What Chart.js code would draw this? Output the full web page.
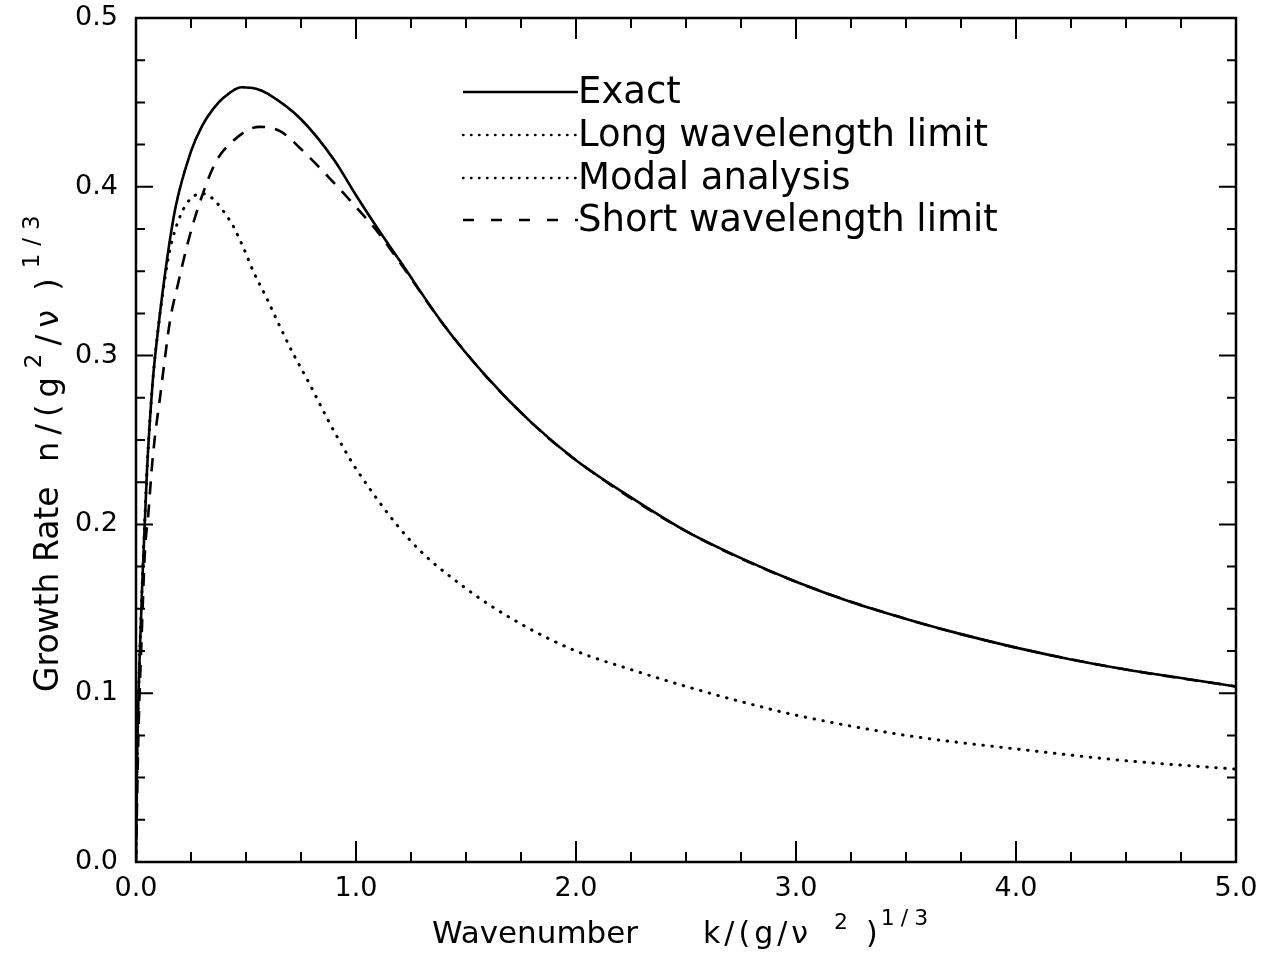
<!DOCTYPE html>
<html>
<head>
<meta charset="utf-8">
<script src="https://cdn.jsdelivr.net/npm/chart.js@4.4.1/dist/chart.umd.min.js"></script>
<style>
    body { margin: 0; background: #fff; }
    #wrap { width: 1269px; height: 956px; }
</style>
</head>
<body>
<div id="wrap"><canvas id="growth"></canvas></div>
<script>
// values (k, growth rate)
const exactK = [0, 0.005, 0.015, 0.03, 0.05, 0.075, 0.1, 0.14, 0.18, 0.25, 0.3, 0.35, 0.4, 0.48, 0.55, 0.6, 0.75, 0.9, 1.0, 1.1, 1.2, 1.4, 1.6, 1.8, 2.0, 2.25, 2.5, 2.75, 3.0, 3.25, 3.5, 3.75, 4.0, 4.25, 4.5, 4.75, 5.0];
const exactRate = [0, 0.06, 0.115, 0.17, 0.232, 0.283, 0.315, 0.356, 0.388, 0.421, 0.436, 0.446, 0.453, 0.459, 0.458, 0.455, 0.44, 0.416, 0.395, 0.375, 0.356, 0.318, 0.2865, 0.26, 0.238, 0.216, 0.196, 0.18, 0.166, 0.154, 0.144, 0.135, 0.127, 0.12, 0.114, 0.109, 0.104];

const longK = [0, 0.005, 0.015, 0.03, 0.05, 0.075, 0.1, 0.147, 0.177, 0.23, 0.3, 0.427, 0.488, 0.533, 0.594, 0.655, 0.715, 0.79, 0.874, 0.94, 1.0, 1.25, 1.5, 1.75, 2.0, 2.26, 2.5, 2.75, 3.0, 3.5, 4.0, 4.5, 5.0];
const longRate = [0, 0.06, 0.115, 0.17, 0.232, 0.283, 0.315, 0.358, 0.374, 0.39, 0.396, 0.38, 0.364, 0.35, 0.334, 0.317, 0.301, 0.283, 0.2615, 0.246, 0.233, 0.19, 0.162, 0.141, 0.125, 0.1136, 0.104, 0.095, 0.087, 0.075, 0.067, 0.06, 0.055];

// modal analysis lies on top of the exact curve
const modalK = exactK;
const modalRate = exactRate;

const shortK = [0, 0.01, 0.026, 0.041, 0.056, 0.071, 0.086, 0.109, 0.132, 0.155, 0.19, 0.238, 0.283, 0.36, 0.44, 0.56, 0.655, 0.745, 0.895, 1.0, 1.1, 1.2, 1.4, 1.6, 1.8, 2.0, 2.5, 3.0, 3.5, 4.0, 4.5, 5.0];
const shortRate = [0, 0.07, 0.135, 0.185, 0.206, 0.232, 0.252, 0.275, 0.299, 0.321, 0.342, 0.368, 0.388, 0.414, 0.427, 0.4355, 0.433, 0.423, 0.403, 0.388, 0.373, 0.355, 0.318, 0.2865, 0.26, 0.238, 0.196, 0.166, 0.144, 0.127, 0.114, 0.104];

const xTicks = [0, 1, 2, 3, 4, 5];
const yTicks = [0, 0.1, 0.2, 0.3, 0.4, 0.5];

const FONT = '"DejaVu Sans"';

function toPoints(xs, ys) {
    return xs.map(function (x, i) {
        return { x: x, y: ys[i] };
    });
}

function drawRich(ctx, parts, x, y) {
    parts.forEach(function (p) {
        ctx.font = p.size + "px " + FONT;
        ctx.letterSpacing = (p.ls || 0) + "px";
        x += p.gap || 0;
        ctx.fillText(p.t, x, y - (p.rise || 0));
        x += ctx.measureText(p.t).width;
    });
    ctx.letterSpacing = "0px";
}

// frame, inward ticks, legend and axis titles
const decorations = {
    id: "decorations",
    afterDraw(chart) {
        const ctx = chart.ctx;
        const a = chart.chartArea;
        const xs = chart.scales.x;
        const ys = chart.scales.y;

        ctx.save();
        ctx.strokeStyle = "#000";
        ctx.fillStyle = "#000";
        ctx.lineWidth = 2.5;
        ctx.strokeRect(a.left, a.top, a.right - a.left, a.bottom - a.top);

        ctx.lineWidth = 2;
        for (let i = 0; i <= 20; i++) {
            const px = xs.getPixelForValue(i * 0.25);
            const len = i % 4 === 0 ? 21 : 10;
            ctx.beginPath();
            ctx.moveTo(px, a.bottom);
            ctx.lineTo(px, a.bottom - len);
            ctx.moveTo(px, a.top);
            ctx.lineTo(px, a.top + len);
            ctx.stroke();
        }
        for (let i = 0; i <= 20; i++) {
            const py = ys.getPixelForValue(i * 0.025);
            const len = i % 4 === 0 ? 17 : 9;
            ctx.beginPath();
            ctx.moveTo(a.left, py);
            ctx.lineTo(a.left + len, py);
            ctx.moveTo(a.right, py);
            ctx.lineTo(a.right - len, py);
            ctx.stroke();
        }

        // legend
        const rows = [92, 135, 178, 220];
        chart.data.datasets.forEach(function (ds, i) {
            const y = rows[i];
            ctx.save();
            ctx.lineWidth = ds.legendWidth;
            ctx.lineCap = ds.borderCapStyle || "butt";
            ctx.setLineDash(ds.legendDash);
            ctx.beginPath();
            ctx.moveTo(463, y);
            ctx.lineTo(578, y);
            ctx.stroke();
            ctx.restore();
            ctx.font = "37px " + FONT;
            ctx.textBaseline = "alphabetic";
            ctx.fillText(ds.label, 578, y + 11);
        });

        // x title
        ctx.textBaseline = "alphabetic";
        drawRich(ctx, [{ t: "Wavenumber", size: 31 }], 432, 943);
        drawRich(ctx, [
            { t: "k/(g/ν", size: 30, ls: 4 },
            { t: "2", size: 22, rise: 14, gap: 22 },
            { t: ")", size: 30, gap: 18 },
            { t: "1/3", size: 22, rise: 18, gap: 3, ls: 6 }
        ], 703, 943);

        // y title
        ctx.translate(58, 692);
        ctx.rotate(-Math.PI / 2);
        drawRich(ctx, [{ t: "Growth Rate", size: 33 }], 0, 0);
        drawRich(ctx, [
            { t: "n/(g", size: 32, ls: 7 },
            { t: "2", size: 23, rise: 17, gap: 2 },
            { t: "/ν", size: 32, gap: 8, ls: 7 },
            { t: ")", size: 32, gap: 12 },
            { t: "1/3", size: 23, rise: 19, gap: 10, ls: 8 }
        ], 230, 0);
        ctx.restore();
    }
};

new Chart(document.getElementById("growth"), {
    type: "line",
    data: {
        datasets: [
            {
                label: "Exact",
                data: toPoints(exactK, exactRate),
                borderColor: "#000",
                borderWidth: 2.6,
                legendWidth: 2.4,
                legendDash: []
            },
            {
                label: "Long wavelength limit",
                data: toPoints(longK, longRate),
                borderColor: "#000",
                borderWidth: 3,
                borderDash: [0.5, 8.5],
                borderCapStyle: "round",
                legendWidth: 2.4,
                legendDash: [0.5, 7.5]
            },
            {
                label: "Modal analysis",
                data: toPoints(modalK, modalRate),
                borderColor: "#000",
                borderWidth: 2,
                borderDash: [0.5, 8.5],
                borderCapStyle: "round",
                legendWidth: 2.4,
                legendDash: [0.5, 7.5]
            },
            {
                label: "Short wavelength limit",
                data: toPoints(shortK, shortRate),
                borderColor: "#000",
                borderWidth: 2.6,
                borderDash: [13, 10],
                legendWidth: 2.4,
                legendDash: [11, 17]
            }
        ]
    },
    options: {
        responsive: true,
        maintainAspectRatio: false,
        animation: false,
        datasets: {
            line: {
                pointRadius: 0,
                fill: false,
                cubicInterpolationMode: "monotone"
            }
        },
        layout: {
            padding: { top: 18, right: 33, left: 0, bottom: 0 }
        },
        plugins: {
            legend: { display: false },
            tooltip: { enabled: false }
        },
        scales: {
            x: {
                type: "linear",
                min: 0,
                max: 5,
                afterFit: function (scale) {
                    scale.height = 94;
                },
                afterBuildTicks: function (scale) {
                    scale.ticks = xTicks.map(function (v) {
                        return { value: v };
                    });
                },
                grid: { display: false, drawTicks: false },
                border: { display: false },
                ticks: {
                    color: "#000",
                    padding: 11,
                    maxRotation: 0,
                    autoSkip: false,
                    font: { family: "DejaVu Sans", size: 27 },
                    callback: function (v) {
                        return v.toFixed(1);
                    }
                }
            },
            y: {
                min: 0,
                max: 0.5,
                afterFit: function (scale) {
                    scale.width = 136;
                    scale.paddingTop = 0;
                    scale.paddingBottom = 0;
                },
                afterBuildTicks: function (scale) {
                    scale.ticks = yTicks.map(function (v) {
                        return { value: v };
                    });
                },
                grid: { display: false, drawTicks: false },
                border: { display: false },
                ticks: {
                    color: "#000",
                    padding: 18,
                    autoSkip: false,
                    font: { family: "DejaVu Sans", size: 27 },
                    callback: function (v) {
                        return v.toFixed(1);
                    }
                }
            }
        }
    },
    plugins: [decorations]
});
</script>
</body>
</html>
